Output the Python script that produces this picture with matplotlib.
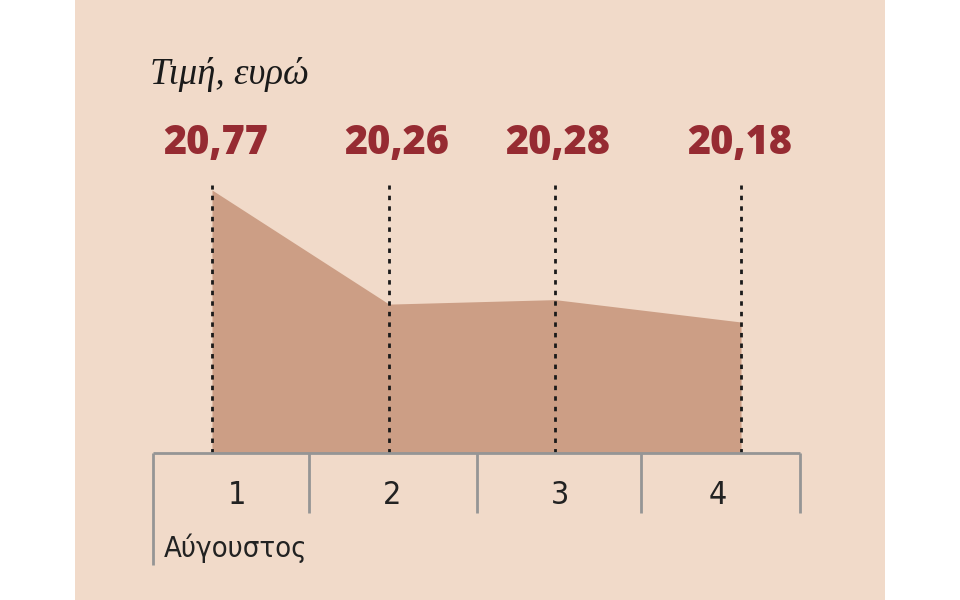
import matplotlib
matplotlib.use("Agg")
import matplotlib.pyplot as plt
from matplotlib.transforms import blended_transform_factory

# data
weeks = ["1", "2", "3", "4"]
prices = [20.77, 20.26, 20.28, 20.18]
price_labels = ["20,77", "20,26", "20,28", "20,18"]
title = "Τιμή, ευρώ"
month = "Αύγουστος"

# layout (pixel x positions of the figure, 960 px wide)
point_x = [212, 389, 555, 741]
label_x = [216, 397, 558, 740]
tick_x = [153, 309, 477, 641, 800]
week_x = [237, 392, 560, 718]

BG = "#F1DAC9"
AREA = "#CC9E85"
RED = "#962B32"
GREY = "#959595"

fig = plt.figure(figsize=(9.6, 6.0), dpi=100)
fig.patch.set_facecolor("white")
ax = fig.add_axes([0, 0, 1, 1])
ax.set_xlim(0, 960)
# y scale: 20.77 sits at pixel 190, 20.18 at pixel 322 from top
ppu = (322 - 190) / (20.77 - 20.18)
base = 20.18 - (453 - 322) / ppu
ax.set_ylim(base - (600 - 453) / ppu, 20.77 + 190 / ppu)
ax.axis("off")

trans_y = blended_transform_factory(ax.transData, ax.transAxes)


def py(p):
    # pixel row -> axes fraction
    return 1 - p / 600


# beige panel
ax.add_patch(plt.Rectangle((75, 0), 810, 1, transform=trans_y,
                           facecolor=BG, edgecolor="none", zorder=0))

ax.fill_between(point_x, prices, base, color=AREA, lw=0, zorder=1)

for x, v, lab, lx in zip(point_x, prices, price_labels, label_x):
    ax.plot([x, x], [base, 20.77 + 5 / ppu], color="#1a1a1a", lw=2,
            ls=(0, (1.6, 2.2)), zorder=2)
    ax.text(lx, py(144), lab, transform=trans_y, ha="center", va="center",
            fontsize=28.5, fontweight=800, color=RED,
            family=["Open Sans", "DejaVu Sans"])

# axis bar
ax.plot([tick_x[0], tick_x[-1]], [base, base], color=GREY, lw=2,
        solid_capstyle="butt", zorder=3)
for i, x in enumerate(tick_x):
    bottom = 565 if i == 0 else 513
    ax.plot([x, x], [py(453), py(bottom)], transform=trans_y, color=GREY,
            lw=2, solid_capstyle="butt", zorder=3)

for x, w in zip(week_x, weeks):
    ax.text(x, py(496), w, transform=trans_y, ha="center", va="center",
            fontsize=23, color="#222222", family="DejaVu Sans",
            fontstretch="condensed")
ax.text(164, py(548), month, transform=trans_y, ha="left", va="center",
        fontsize=21, color="#222222", family="DejaVu Sans",
        fontstretch="condensed")

ax.text(150, py(74), title, transform=trans_y, ha="left", va="center",
        fontsize=26.5, style="italic", color="#1a1a1a",
        family=["Liberation Serif", "DejaVu Serif"])

fig.savefig("out.png", dpi=100, facecolor=fig.get_facecolor())
